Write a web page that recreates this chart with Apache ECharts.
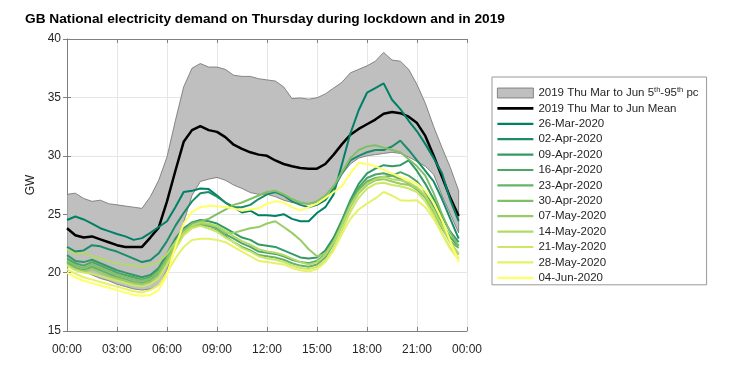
<!DOCTYPE html>
<html>
<head>
<meta charset="utf-8">
<script src="https://cdn.jsdelivr.net/npm/echarts@6/dist/echarts.min.js"></script>
<style>
  html, body { margin: 0; padding: 0; background: #fff; }
  #chart { width: 754px; height: 377px; }
</style>
</head>
<body>
<div id="chart"></div>
<script>
// half-hourly values, 00:00 .. 23:30 (GW)
const bandLower = [20.6, 20.3, 20.1, 19.8, 19.5, 19.3, 19.0, 18.8, 18.6, 18.5, 18.6, 18.9,
  20.2, 22.3, 24.3, 26.6, 27.8, 28.0, 28.15, 27.9, 27.5, 27.2, 26.85, 26.7,
  26.7, 26.5, 26.2, 26.0, 25.9, 25.85, 26.0, 26.5, 27.4, 28.4, 29.3, 29.8,
  30.0, 30.1, 30.2, 30.3, 30.2, 29.9, 29.5, 29.1, 28.4, 26.6, 25.0, 23.4];
const bandUpper = [26.7, 26.8, 26.35, 26.1, 26.2, 25.9, 25.8, 25.7, 25.6, 25.5, 26.5, 27.9,
  29.9, 33.0, 35.9, 37.5, 37.9, 37.6, 37.6, 37.4, 36.9, 36.8, 36.8, 36.6,
  36.5, 36.4, 35.9, 34.9, 34.95, 34.85, 34.97, 35.3, 35.8, 36.3, 37.1, 37.4,
  37.7, 38.1, 38.85, 38.2, 38.1, 37.4, 36.1, 34.5, 32.5, 30.7, 29.0, 27.0];
const mean2019 = [23.8, 23.2, 23.0, 23.1, 22.85, 22.6, 22.35, 22.2, 22.2, 22.2, 23.0, 23.85,
  26.1, 28.7, 31.2, 32.2, 32.55, 32.2, 32.05, 31.6, 30.95, 30.6, 30.3, 30.1,
  30.0, 29.6, 29.3, 29.1, 28.95, 28.9, 28.9, 29.3, 30.1, 31.0, 31.8, 32.3,
  32.7, 33.1, 33.6, 33.75, 33.65, 33.35, 32.8, 31.7, 30.0, 28.2, 26.4, 24.85];

const mar26 = [24.5, 24.8, 24.55, 24.2, 23.8, 23.55, 23.3, 23.1, 22.8, 22.95, 23.4, 23.9,
  24.4, 25.6, 26.9, 27.0, 27.2, 27.15, 26.6, 26.0, 25.6, 25.15, 25.3, 24.9,
  24.9, 24.85, 25.0, 24.6, 24.4, 24.4, 25.1, 25.6, 26.7, 29.3, 31.9, 33.9,
  35.4, 35.8, 36.2, 34.8, 34.0, 33.0, 32.1, 31.0, 29.8, 28.5, 26.2, 24.4];
const apr02 = [22.2, 21.8, 21.9, 22.35, 22.25, 22.0, 21.8, 21.5, 21.2, 20.9, 21.05, 21.65,
  22.7, 24.0, 25.1, 26.1, 26.8, 26.9, 26.5, 26.0, 25.6, 25.6, 25.8, 26.3,
  26.7, 26.9, 26.6, 26.1, 25.8, 25.6, 25.8, 26.2, 27.2, 28.5, 29.6, 30.0,
  30.3, 30.5, 30.5, 30.8, 31.3, 30.5, 29.6, 28.7, 27.8, 26.3, 24.6, 22.9];
const apr09 = [21.5, 21.0, 20.9, 21.1, 20.8, 20.5, 20.2, 20.0, 19.8, 19.6, 19.8, 20.4,
  21.6, 22.9, 23.8, 24.3, 24.5, 24.4, 24.2, 23.8, 23.4, 23.0, 22.8, 22.4,
  22.3, 22.2, 21.9, 21.6, 21.3, 21.2, 21.3, 21.9, 23.0, 24.5, 26.2, 27.6,
  28.5, 28.9, 29.2, 29.1, 29.2, 29.6, 28.7, 27.6, 26.3, 24.8, 23.5, 22.6];
const apr16 = [21.2, 20.8, 20.6, 20.9, 20.6, 20.3, 20.0, 19.8, 19.6, 19.4, 19.6, 20.2,
  21.3, 22.5, 23.5, 24.0, 24.2, 24.0, 23.8, 23.3, 22.9, 22.5, 22.2, 21.8,
  21.7, 21.6, 21.4, 21.1, 20.9, 20.8, 21.0, 21.6, 22.7, 24.3, 26.0, 27.3,
  28.1, 28.4, 28.5, 28.3, 28.6, 28.3, 27.8, 26.9, 25.6, 24.2, 23.0, 22.3];
const apr23 = [20.9, 20.4, 20.2, 20.5, 20.2, 19.9, 19.6, 19.4, 19.2, 19.1, 19.3, 19.9,
  21.0, 22.3, 23.4, 24.0, 24.1, 23.8, 23.6, 23.1, 22.6, 22.2, 21.9, 21.5,
  21.4, 21.3, 21.1, 20.8, 20.6, 20.5, 20.7, 21.3, 22.5, 24.2, 25.9, 27.1,
  27.8, 28.1, 28.2, 28.3, 28.0, 27.6, 27.1, 26.4, 25.2, 23.8, 22.7, 22.1];
const apr30 = [21.0, 20.6, 20.4, 20.7, 20.4, 20.1, 19.8, 19.6, 19.4, 19.3, 19.5, 20.1,
  21.2, 22.5, 23.6, 24.2, 24.4, 24.6, 25.0, 25.4, 25.8, 26.0, 26.3, 26.6,
  26.9, 27.0, 26.7, 26.3, 26.0, 25.9, 26.1, 26.6, 27.4, 28.6, 29.8, 30.5,
  30.8, 30.9, 30.7, 30.5, 30.3, 29.7, 29.1, 28.3, 26.8, 25.0, 23.4, 22.3];
const may07 = [20.7, 20.3, 20.1, 20.3, 20.0, 19.7, 19.5, 19.3, 19.1, 19.0, 19.2, 19.8,
  21.0, 22.4, 23.4, 23.9, 24.2, 24.1, 23.9, 23.4, 23.4, 23.6, 23.8, 23.9,
  24.2, 24.4, 23.9, 23.4, 22.8, 22.0, 21.4, 21.6, 22.6, 24.0, 25.6, 26.8,
  27.5, 27.9, 28.0, 27.8, 27.6, 27.5, 27.2, 26.5, 25.3, 23.9, 22.6, 21.6];
const may14 = [22.0, 21.6, 21.7, 21.4, 21.2, 21.0, 20.8, 20.7, 20.6, 20.5, 20.6, 20.9,
  21.6, 22.6, 23.4, 24.0, 24.3, 24.2, 24.0, 23.6, 23.1, 22.7, 22.4, 22.0,
  21.8, 21.7, 21.5, 21.2, 20.9, 20.7, 20.9, 21.5, 22.6, 24.1, 25.7, 26.9,
  27.6, 28.0, 28.2, 28.0, 27.9, 27.7, 27.3, 26.6, 25.4, 24.0, 22.6, 21.5];
const may21 = [20.6, 20.2, 20.0, 19.9, 19.7, 19.5, 19.3, 19.1, 18.9, 18.8, 19.0, 19.5,
  20.7, 22.0, 23.2, 23.8, 24.0, 23.8, 23.5, 23.0, 22.6, 22.1, 21.8, 21.4,
  21.2, 21.1, 20.9, 20.6, 20.4, 20.3, 20.5, 21.0, 22.1, 23.6, 25.2, 26.4,
  27.2, 27.6, 27.7, 27.5, 27.4, 27.2, 26.9, 26.1, 24.9, 23.4, 22.1, 21.2];
const may28 = [20.3, 19.9, 19.6, 19.4, 19.2, 19.0, 18.8, 18.6, 18.4, 18.3, 18.5, 18.9,
  20.0, 21.2, 22.2, 22.8, 22.9, 22.9, 22.8, 22.6, 22.2, 21.8, 21.4, 21.0,
  20.9, 20.8, 20.7, 20.4, 20.2, 20.1, 20.3, 20.9, 21.9, 23.3, 24.6, 25.4,
  25.9, 26.35, 26.9, 26.6, 26.2, 26.15, 26.2, 25.6, 24.6, 23.3, 22.0, 21.1];
const jun04 = [20.0, 19.6, 19.3, 19.1, 18.9, 18.7, 18.5, 18.3, 18.1, 18.0, 18.1, 18.5,
  19.8, 22.2, 24.2, 25.2, 25.6, 25.7, 25.7, 25.6, 25.5, 25.3, 25.4, 25.5,
  25.9, 26.1, 26.0, 25.6, 25.3, 25.6, 25.9, 26.4, 26.9, 27.4, 28.5, 29.4,
  29.3, 29.1, 28.8, 28.5, 28.2, 27.9, 27.6, 27.0, 26.0, 24.5, 22.7, 20.9];

const lockdownNames = ['26-Mar-2020', '02-Apr-2020', '09-Apr-2020', '16-Apr-2020', '23-Apr-2020',
  '30-Apr-2020', '07-May-2020', '14-May-2020', '21-May-2020', '28-May-2020', '04-Jun-2020'];
const lockdownData = [mar26, apr02, apr09, apr16, apr23, apr30, may07, may14, may21, may28, jun04];
// MATLAB "summer" colormap, 11 steps
const lockdownColors = ['#008066', '#1a8c66', '#339966', '#4da666', '#66b366', '#80bf66',
  '#99cc66', '#b3d966', '#cce666', '#e6f266', '#ffff66'];

const bandName = '2019 Thu Mar to Jun 5th-95th pc';
const meanName = '2019 Thu Mar to Jun Mean';
const font = 'Liberation Sans, Arial, sans-serif';
const lineIcon = 'path://M0,0H36V2.2H0Z';
const meanIcon = 'path://M0,0H36V2.6H0Z';

const toXY = arr => arr.map((v, i) => [i * 0.5, v]);
const hhmm = h => String(h % 24).padStart(2, '0') + ':00';

const chart = echarts.init(document.getElementById('chart'));

// 5th-95th percentile band as one filled polygon (upper edge, then lower edge back)
function renderBand(params, api) {
  const top = bandUpper.map((v, i) => api.coord([i * 0.5, v]));
  const bottom = bandLower.map((v, i) => api.coord([i * 0.5, v])).reverse();
  return {
    type: 'polygon',
    shape: { points: top.concat(bottom) },
    style: { fill: '#bfbfbf', stroke: '#6e6e6e', lineWidth: 0.8 },
  };
}

const series = [
  {
    name: bandName,
    type: 'custom',
    renderItem: renderBand,
    data: [[0, 20]],
    encode: { x: 0, y: 1 },
    itemStyle: { color: '#bfbfbf' },
    clip: true,
    silent: true,
    z: 1,
  },
  {
    name: meanName,
    type: 'line',
    symbol: 'none',
    data: toXY(mean2019),
    lineStyle: { width: 2.5, color: '#000' },
    itemStyle: { color: '#000' },
    z: 3,
  },
];
lockdownNames.forEach((name, k) => {
  series.push({
    name,
    type: 'line',
    symbol: 'none',
    data: toXY(lockdownData[k]),
    lineStyle: { width: 2, color: lockdownColors[k] },
    itemStyle: { color: lockdownColors[k] },
    z: 3,
  });
});

const legendData = [
  { name: bandName, icon: 'rect', itemStyle: { color: '#bfbfbf', borderColor: '#6e6e6e', borderWidth: 0.8 } },
  { name: meanName, icon: meanIcon, itemStyle: { color: '#000' } },
].concat(lockdownNames.map((n, k) => ({ name: n, icon: lineIcon, itemStyle: { color: lockdownColors[k] } })));

chart.setOption({
  animation: false,
  textStyle: { fontFamily: font },
  title: {
    text: 'GB National electricity demand on Thursday during lockdown and in 2019',
    left: 20,
    top: 7,
    textStyle: { fontFamily: font, fontSize: 13.7, fontWeight: 'bold', color: '#000' },
  },
  grid: { left: 67, right: 287, top: 39, bottom: 46 },
  legend: {
    orient: 'vertical',
    left: 492,
    top: 77,
    padding: [9, 8, 1, 5],
    itemWidth: 36,
    itemHeight: 10,
    itemGap: 3.4,
    borderColor: '#999',
    borderWidth: 1,
    data: legendData,
    formatter: name => name === bandName ? '2019 Thu Mar to Jun 5{sup|th}-95{sup|th} pc' : name,
    textStyle: {
      fontFamily: font,
      fontSize: 11.5,
      color: '#262626',
      rich: {
        sup: { fontSize: 7.5, fontFamily: font, color: '#262626', padding: [0, 0, 6, 0] },
      },
    },
  },
  xAxis: [
    {
      type: 'value',
      min: 0,
      max: 24,
      interval: 3,
      axisLine: { show: true, lineStyle: { color: '#808080' } },
      axisTick: { inside: true, length: 4, lineStyle: { color: '#808080' } },
      axisLabel: { formatter: v => hhmm(v), color: '#262626', fontSize: 12, margin: 13 },
      splitLine: { show: true, lineStyle: { color: '#e6e6e6', width: 1 } },
    },
    {
      type: 'value',
      position: 'top',
      min: 0,
      max: 24,
      interval: 3,
      axisLine: { show: true, lineStyle: { color: '#808080' } },
      axisTick: { inside: true, length: 4, lineStyle: { color: '#808080' } },
      axisLabel: { show: false },
      splitLine: { show: false },
    },
  ],
  yAxis: [
    {
      type: 'value',
      min: 15,
      max: 40,
      interval: 5,
      name: 'GW',
      nameLocation: 'middle',
      nameGap: 26,
      nameRotate: 90,
      nameTextStyle: { fontFamily: font, fontSize: 12, color: '#262626' },
      axisLine: { show: true, lineStyle: { color: '#808080' } },
      axisTick: { show: true, inside: true, length: 4, lineStyle: { color: '#808080' } },
      axisLabel: { color: '#262626', fontSize: 12, margin: 6 },
      splitLine: { show: true, lineStyle: { color: '#e6e6e6', width: 1 } },
    },
    {
      type: 'value',
      position: 'right',
      min: 15,
      max: 40,
      interval: 5,
      axisLine: { show: true, lineStyle: { color: '#808080' } },
      axisTick: { show: true, inside: true, length: 4, lineStyle: { color: '#808080' } },
      axisLabel: { show: false },
      splitLine: { show: false },
    },
  ],
  series,
});
</script>
</body>
</html>
